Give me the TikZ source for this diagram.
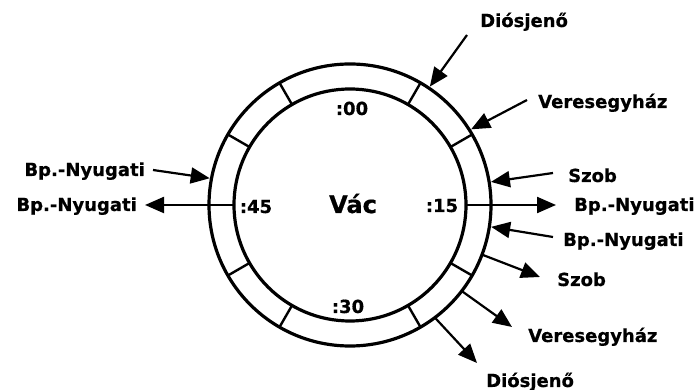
\documentclass[tikz,border=0pt]{standalone}
\usepackage{fontspec}
\setmainfont{DejaVu Sans}
\newfontfamily\heavy[BoldFeatures={FakeBold=0.6}]{DejaVu Sans}
\usetikzlibrary{arrows.meta}
\begin{document}
\begin{tikzpicture}[x=1pt,y=1pt,
  ring/.style={line width=3.2pt},
  tickline/.style={line width=2.4pt},
  conn/.style={line width=2.2pt,-{Triangle[length=19pt,width=16pt]}},
  lbl/.style={font=\fontsize{18}{20}\selectfont\heavy\bfseries, inner sep=0pt},
  big/.style={font=\fontsize{24}{26}\selectfont\heavy\bfseries, inner sep=0pt}]
\useasboundingbox (0,0) rectangle (698,390);
\coordinate (c) at (350,185);
\draw[ring] (c) circle[radius=141pt];
\draw[ring] (c) circle[radius=116pt];
\foreach \a in {0,30,60,120,150,180,210,240,300,330}
  \draw[tickline] ([shift={(\a:116pt)}]c) -- ([shift={(\a:141pt)}]c);
% centre labels
\node[big,anchor=base] (vac) at (353,177) {Vác};
\node[lbl,anchor=base] (m00) at (352,275) {:00};
\node[lbl,anchor=base] (m15) at (442,178) {:15};
\node[lbl,anchor=base] (m30) at (348,77) {:30};
\node[lbl,anchor=base] (m45) at (256,177) {:45};
% points on the ring
\coordinate (p1) at ([shift={(56:142.8pt)}]c);
\coordinate (p2) at ([shift={(32:142.8pt)}]c);
\coordinate (p3) at ([shift={(9.3:142.8pt)}]c);
\coordinate (p4) at ([shift={(0:116pt)}]c);
\coordinate (p5) at ([shift={(-8.8:142.8pt)}]c);
\coordinate (p6) at ([shift={(-20.6:141pt)}]c);
\coordinate (p7) at ([shift={(-37.6:141pt)}]c);
\coordinate (p8) at ([shift={(-53:141pt)}]c);
\coordinate (p9) at ([shift={(169.2:142.8pt)}]c);
\coordinate (p10) at ([shift={(180:116pt)}]c);
% free ends
\coordinate (e1) at (467,355);
\coordinate (e2) at (527,290);
\coordinate (e3) at (553,217);
\coordinate (e4) at (556,185);
\coordinate (e5) at (553,153);
\coordinate (e6) at (540,113);
\coordinate (e7) at (512,63);
\coordinate (e8) at (477,27);
\coordinate (e9) at (153,220);
\coordinate (e10) at (145,185);
% labels
\node[lbl,anchor=base west] (l1) at (480,363) {Diósjenő};
\node[lbl,anchor=base west] (l2) at (538,282) {Veresegyház};
\node[lbl,anchor=base west] (l3) at (568,208) {Szob};
\node[lbl,anchor=base west] (l4) at (574,179) {Bp.-Nyugati};
\node[lbl,anchor=base west] (l5) at (563,144) {Bp.-Nyugati};
\node[lbl,anchor=base west] (l6) at (557,104) {Szob};
\node[lbl,anchor=base west] (l7) at (528,48) {Veresegyház};
\node[lbl,anchor=base west] (l8) at (486,3) {Diósjenő};
\node[lbl,anchor=base east] (l9) at (145,214) {Bp.-Nyugati};
\node[lbl,anchor=base east] (l10) at (137,179) {Bp.-Nyugati};
% connectors
\draw[conn] (e1) -- (p1);
\draw[conn] (e2) -- (p2);
\draw[conn] (e3) -- (p3);
\draw[conn] (p4) -- (e4);
\draw[conn] (e5) -- (p5);
\draw[conn] (p6) -- (e6);
\draw[conn] (p7) -- (e7);
\draw[conn] (p8) -- (e8);
\draw[conn] (e9) -- (p9);
\draw[conn] (p10) -- (e10);
\end{tikzpicture}
\end{document}
